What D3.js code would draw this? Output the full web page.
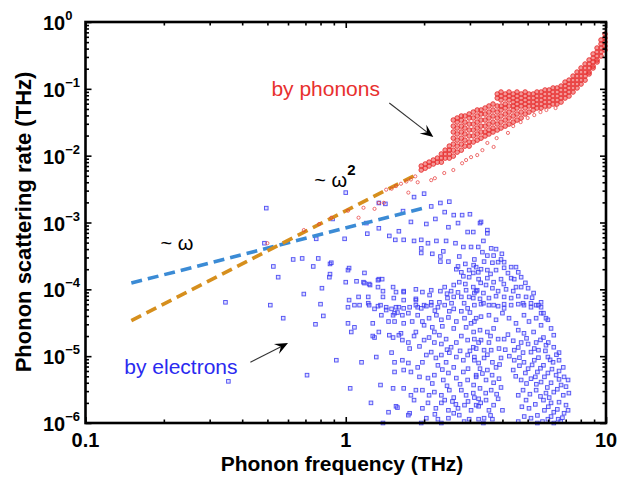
<!DOCTYPE html>
<html>
<head>
<meta charset="utf-8">
<script src="https://cdn.jsdelivr.net/npm/d3@7"></script>
<style>
body { margin: 0; background: #fff; }
svg { font-family: "Liberation Sans", Arial, Helvetica, sans-serif; }
</style>
</head>
<body>
<svg id="chart" width="619" height="479"></svg>
<script>
// values (frequency in THz, rate in THz)
const xMajor = [0.1, 1, 10];
const xLabels = ["0.1", "1", "10"];
const yExponents = [0, -1, -2, -3, -4, -5, -6];

// dashed guide lines ~w and ~w^2
const omegaFit = [[0.15, 1.24e-4], [1.97, 1.63e-3]];
const omega2Fit = [[0.15, 3.4e-5], [1.9, 5.4e-3]];

// phonon-phonon scattering: frequency -> rates in the dense band
const phononBand = [
  [1.95, [7.0e-3, 6.1e-3]], [2.02, [7.5e-3, 6.5e-3]], [2.09, [8.0e-3, 7.0e-3]],
  [2.17, [8.6e-3, 7.5e-3]], [2.25, [9.2e-3, 8.0e-3]], [2.33, [0.0106, 9.2e-3, 8.0e-3]],
  [2.41, [0.0121, 0.0106, 9.2e-3]], [2.50, [0.0139, 0.0121, 0.0106, 9.2e-3]],
  [2.59, [0.0341, 0.0277, 0.0226, 0.0183, 0.0149, 0.0121, 9.86e-3]],
  [2.68, [0.0366, 0.0318, 0.0259, 0.0211, 0.0171, 0.0139, 0.0113]],
  [2.78, [0.0392, 0.0341, 0.0277, 0.0226, 0.0183, 0.0149, 0.0121]],
  [2.87, [0.0392, 0.0318, 0.0259, 0.0211, 0.0171, 0.0139]],
  [2.98, [0.0420, 0.0366, 0.0297, 0.0242, 0.0197, 0.0160, 0.0139]],
  [3.09, [0.0449, 0.0366, 0.0297, 0.0242, 0.0197, 0.0160]],
  [3.20, [0.0482, 0.0392, 0.0318, 0.0259, 0.0211, 0.0171]],
  [3.31, [0.0482, 0.0420, 0.0341, 0.0277, 0.0226, 0.0183]],
  [3.43, [0.0516, 0.0420, 0.0341, 0.0277, 0.0226, 0.0197]],
  [3.55, [0.0553, 0.0449, 0.0366, 0.0297, 0.0242, 0.0211]],
  [3.68, [0.0592, 0.0482, 0.0392, 0.0318, 0.0259, 0.0226]],
  [3.82, [0.0836, 0.0728, 0.0553, 0.0449, 0.0366, 0.0297, 0.0242]],
  [3.95, [0.0896, 0.0780, 0.0680, 0.0553, 0.0482, 0.0392, 0.0318, 0.0259]],
  [4.10, [0.0836, 0.0728, 0.0592, 0.0516, 0.0420, 0.0341, 0.0277]],
  [4.24, [0.0896, 0.0780, 0.0680, 0.0553, 0.0449, 0.0366, 0.0297]],
  [4.40, [0.0836, 0.0728, 0.0634, 0.0553, 0.0482, 0.0392, 0.0318]],
  [4.55, [0.0896, 0.0780, 0.0680, 0.0592, 0.0516, 0.0420, 0.0341]],
  [4.72, [0.0836, 0.0728, 0.0634, 0.0553, 0.0449, 0.0366]],
  [4.89, [0.0896, 0.0780, 0.0680, 0.0592, 0.0516, 0.0420]],
  [5.06, [0.0836, 0.0728, 0.0634, 0.0553, 0.0449]],
  [5.25, [0.0836, 0.0728, 0.0634, 0.0553, 0.0482]],
  [5.43, [0.0896, 0.0780, 0.0680, 0.0592, 0.0516]],
  [5.63, [0.0896, 0.0780, 0.0680, 0.0592, 0.0516]],
  [5.83, [0.0960, 0.0836, 0.0728, 0.0634, 0.0553]],
  [6.04, [0.0960, 0.0836, 0.0728, 0.0634, 0.0553]],
  [6.26, [0.103, 0.0896, 0.0780, 0.0680, 0.0592]],
  [6.48, [0.103, 0.0896, 0.0780, 0.0680, 0.0592]],
  [6.72, [0.110, 0.0960, 0.0836, 0.0728, 0.0634]],
  [6.96, [0.126, 0.110, 0.0960, 0.0836, 0.0728]],
  [7.21, [0.135, 0.118, 0.103, 0.0896, 0.0780]],
  [7.47, [0.155, 0.135, 0.118, 0.103, 0.0896]],
  [7.74, [0.178, 0.155, 0.135, 0.118, 0.103]],
  [8.02, [0.205, 0.178, 0.155, 0.135, 0.118]],
  [8.31, [0.235, 0.205, 0.178, 0.155, 0.135]],
  [8.61, [0.270, 0.235, 0.205, 0.178, 0.167]],
  [8.92, [0.332, 0.289, 0.252, 0.219, 0.205]],
  [9.24, [0.408, 0.356, 0.310, 0.270, 0.252]],
  [9.57, [0.538, 0.469, 0.408, 0.356, 0.310]],
  [9.91, [0.661, 0.576, 0.502, 0.437, 0.381]]
];

// sparse phonon points along the w^2 line and the lower branch
const phononSparse = [
  [0.5, 4.9e-4], [0.69, 7.7e-4], [0.79, 9.5e-4], [0.88, 1.18e-3], [1.02, 1.5e-3],
  [1.12, 1.18e-3], [1.17, 1.66e-3], [1.29, 1.6e-3], [1.34, 1.97e-3], [1.40, 1.97e-3],
  [1.43, 3.1e-3], [1.50, 3.2e-3], [1.56, 3.5e-3], [1.63, 3.8e-3], [1.71, 4.1e-3],
  [1.74, 2.8e-3], [1.78, 4.4e-3], [1.85, 4.9e-3], [1.89, 4.0e-3], [2.13, 4.3e-3],
  [2.2, 4.6e-3], [2.39, 5.5e-3], [2.59, 6.1e-3], [2.8, 7.7e-3], [2.9, 8.6e-3],
  [3.03, 9.5e-3], [3.2, 0.0102], [3.35, 0.0121], [3.5, 0.0155], [3.7, 0.0135],
  [3.8, 0.0183], [4.2, 0.0219], [4.4, 0.0277], [4.7, 0.0318], [5.0, 0.0366],
  [5.3, 0.0405], [5.6, 0.0449], [5.9, 0.0482], [6.4, 0.0516]
];

// phonon-electron scattering points
const electronPts = [
  // sparse, low frequency
  [0.495,1.64e-3],[1.0,2.8e-3],[0.487,4.9e-4],[0.527,2.2e-4],[0.55,1.52e-4],[0.628,2.8e-4],
  [0.68,2.9e-4],[0.784,2.9e-4],[0.75,2.2e-4],[0.87,2.4e-4],[0.87,1.69e-4],[0.865,1.52e-4],
  [0.81,1.04e-4],[0.69,8.5e-5],[0.8,6.0e-5],[0.513,5.8e-5],[0.575,3.7e-5],[0.765,3.0e-5],
  [0.345,6.4e-5],[1.02,1.94e-4],[1.03,2.08e-4],[1.0,1.28e-4],[1.1,1.32e-4],[1.18,1.76e-4],
  [1.17,1.28e-4],[1.24,1.16e-4],[1.34,1.42e-4],[1.33,1.08e-4],[1.52,1.08e-4],[1.12,7.7e-5],
  [1.22,7.7e-5],[1.39,7.7e-5],[1.53,7.4e-5],[1.67,9.1e-5],[1.67,6.9e-5],[1.86,6.9e-5],
  [1.02,5.4e-5],[1.08,5.8e-5],[1.22,6.2e-5],[1.33,5.6e-5],[1.43,4.9e-5],[1.52,4.1e-5],
  [1.58,4.5e-5],[1.74,4.4e-5],[1.89,5.4e-5],[2.0,5.8e-5],[1.02,3.1e-5],[1.08,2.7e-5],
  [1.05,2.3e-5],[1.27,3.1e-5],[1.34,2.3e-5],[1.47,2.06e-5],[1.6,2.06e-5],[1.54,3.3e-5],
  [1.67,3.1e-5],[1.8,3.3e-5],[1.86,2.3e-5],[2.0,2.9e-5],[2.19,2.3e-5],[1.29,1.9e-5],
  [1.65,1.74e-5],[0.354,4.2e-6],[0.71,5.2e-6],[0.92,8.7e-6],[0.82,4.0e-5],[1.04,3.3e-6],
  [0.77,5.7e-4],[0.99,5.7e-4],[0.89,1.13e-3],[0.88,2.5e-4],[1.25,2.0e-6],[1.15,8.1e-6],
  [1.46,1.45e-6],[1.58,1.7e-6],[1.76,1.4e-6],
  // upper middle
  [1.34,1.96e-3],[1.42,1.9e-3],[1.83,2.4e-3],[2.0,2.7e-3],[2.13,1.74e-3],[2.31,1.96e-3],
  [2.5,2.05e-3],[1.66,1.48e-3],[1.78,1.02e-3],[2.4,1.43e-3],[2.6,1.29e-3],[2.8,1.29e-3],
  [3.0,1.33e-3],[3.28,9.8e-4],[2.7,9.8e-4],[2.21,1.13e-3],[2.04,9.5e-4],[2.48,8.5e-4],
  [1.2,9.8e-4],[1.21,6.8e-4],[1.34,8.2e-4],[1.47,6.3e-4],[1.6,7.4e-4],[1.55,5.5e-4],
  [1.67,5.5e-4],[1.83,5.3e-4],[1.95,5.5e-4],[2.07,4.9e-4],[2.23,5.3e-4],[2.43,5.3e-4],
  [2.64,4.9e-4],[2.83,4.3e-4],[3.03,4.3e-4],[3.23,4.3e-4],[2.94,7.2e-4],[3.09,7.2e-4],
  [1.95,4.1e-4],[1.95,3.5e-4],[2.15,3.4e-4],[2.37,3.7e-4],[2.31,3.1e-4],[2.31,2.6e-4],
  [2.48,2.6e-4],[2.73,3.1e-4],[2.7,2.2e-4],[2.88,2.4e-4],[2.66,2.0e-4],[2.78,1.8e-4],
  [2.98,1.94e-4],[3.1,2.3e-4],[3.23,1.8e-4],[2.83,1.57e-4],[2.98,1.52e-4],[1.18,1.24e-4],
  [1.23,1.2e-4],[1.33,1.37e-4],[1.38,1.42e-4],[1.39,9.4e-5],[1.56,9.1e-5],[1.67,9.4e-5],
  [1.86,1.0e-4],[1.97,9.1e-5],[2.13,9.7e-5],[2.31,9.4e-5],[2.54,9.4e-5],[2.4,1.08e-4],
  [2.6,1.16e-4],[2.73,1.28e-4],[2.88,1.2e-4],[3.09,1.08e-4],[3.2,9.7e-5],[2.9,9.7e-5],
  [3.12,8.8e-5],[2.98,7.7e-5],[2.78,7.7e-5],[2.6,7.7e-5],[2.46,7.4e-5],[2.29,6.4e-5],
  [2.13,6.4e-5],[1.86,7.2e-5],[1.76,5.4e-5],[1.6,5.4e-5],[1.43,5.4e-5],[1.23,5.8e-5],
  [1.03,6.9e-5],
  // upper right
  [3.31,1.02e-3],[3.5,7.7e-4],[3.5,6.9e-4],[3.38,5.3e-4],[3.62,4.1e-4],[3.78,4.0e-4],
  [3.98,3.4e-4],[3.5,3.2e-4],[3.7,3.2e-4],[4.06,2.55e-4],[3.85,2.55e-4],[3.66,2.5e-4],
  [3.31,2.0e-4],[3.5,1.94e-4],[3.78,1.94e-4],[4.06,2.1e-4],[4.32,2.15e-4],[4.51,2.15e-4],
  [3.12,2.8e-4],[3.17,2.15e-4],[3.09,1.76e-4],[3.24,1.42e-4],[3.5,1.47e-4],[3.46,1.16e-4],
  [3.7,1.28e-4],[3.95,1.42e-4],[4.32,1.47e-4],[4.44,1.42e-4],[4.72,1.52e-4],[4.6,1.8e-4],
  [4.72,1.08e-4],[4.51,1.08e-4],[4.4,9.4e-5],[4.13,1.0e-4],[3.85,9.4e-5],[3.66,1.04e-4],
  [3.38,8.8e-5],[3.17,9.4e-5],[3.09,7.4e-5],[3.28,7.2e-5],[3.55,7.4e-5],[3.78,7.9e-5],
  [4.06,7.7e-5],[4.32,7.4e-5],[4.6,7.9e-5],[4.93,7.7e-5],[5.02,1.04e-4],[5.27,8.8e-5],
  [5.15,6.2e-5],[5.39,5.8e-5],[5.63,6.4e-5],[5.63,5.4e-5],[4.84,5.8e-5],[4.6,6.0e-5],
  [4.32,5.8e-5],[4.06,6.0e-5],[3.85,5.6e-5],[3.55,5.8e-5],[3.31,6.0e-5],[3.12,5.8e-5],
  [3.35,3.6e-4],[3.95,2.8e-4],[4.2,1.75e-4],[3.6,1.7e-4],[4.05,1.2e-4],[3.3,1.25e-4],
  [4.9,1.25e-4],[5.2,7.5e-5],[3.4,2.6e-4],
  // lower middle
  [1.13,5.8e-5],[1.29,5.1e-5],[1.36,5.8e-5],[1.5,5.1e-5],[1.56,5.4e-5],[1.67,5.2e-5],
  [1.86,5.8e-5],[1.95,5.2e-5],[2.04,5.6e-5],[2.13,5.8e-5],[2.26,5.4e-5],[2.4,5.8e-5],
  [2.5,4.7e-5],[2.6,5.1e-5],[2.78,4.7e-5],[2.94,5.2e-5],[1.37,4.1e-5],[1.46,3.3e-5],
  [1.54,4.4e-5],[1.65,4.1e-5],[1.89,4.1e-5],[1.97,3.3e-5],[2.09,3.7e-5],[2.23,4.1e-5],
  [2.33,3.5e-5],[2.48,3.8e-5],[2.66,3.3e-5],[2.86,3.7e-5],[3.03,3.1e-5],[3.17,3.7e-5],
  [1.27,2.0e-5],[1.52,1.9e-5],[1.63,2.2e-5],[1.74,1.6e-5],[1.76,1.3e-5],[1.83,2.0e-5],
  [1.92,1.4e-5],[2.0,1.74e-5],[2.09,1.9e-5],[2.19,1.6e-5],[2.29,2.06e-5],[2.33,1.52e-5],
  [2.43,1.8e-5],[2.54,1.36e-5],[2.66,1.6e-5],[2.78,2.0e-5],[2.94,1.74e-5],[3.09,1.36e-5],
  [3.24,1.6e-5],[1.31,9.7e-6],[1.5,1.13e-5],[1.54,8.1e-6],[1.65,8.7e-6],[1.74,7.9e-6],
  [1.54,5.8e-6],[1.67,6.2e-6],[1.78,5.8e-6],[1.89,6.8e-6],[1.97,8.1e-6],[2.04,1.04e-5],
  [2.13,1.15e-5],[2.22,9.4e-6],[2.33,1.04e-5],[2.26,7.3e-6],[2.43,8.1e-6],[2.5,1.13e-5],
  [2.66,9.7e-6],[2.83,8.7e-6],[2.94,1.04e-5],[3.12,9.7e-6],[3.24,7.9e-6],[1.92,4.9e-6],
  [2.07,4.7e-6],[2.19,5.2e-6],[2.37,4.4e-6],[2.48,5.6e-6],[2.66,4.7e-6],[2.83,5.8e-6],
  [2.94,4.4e-6],[3.17,5.2e-6],[1.36,3.7e-6],[1.52,3.3e-6],[1.67,3.3e-6],[1.78,2.6e-6],
  [1.86,3.1e-6],[1.97,3.1e-6],[2.09,2.6e-6],[2.19,2.9e-6],[2.33,2.6e-6],[2.5,3.1e-6],
  [2.6,2.4e-6],[2.78,3.1e-6],[2.9,2.6e-6],[3.09,2.8e-6],[3.24,2.3e-6],[1.56,1.78e-6],
  [1.83,2.2e-6],[1.97,1.66e-6],[2.07,2.0e-6],[2.22,1.66e-6],[2.33,2.0e-6],[2.48,1.55e-6],
  [2.57,2.1e-6],[2.7,1.66e-6],[2.86,1.85e-6],[3.03,1.55e-6],[3.17,1.85e-6],[1.74,1.31e-6],
  [2.04,1.18e-6],[2.26,1.14e-6],[2.48,1.18e-6],[2.73,1.31e-6],[2.98,1.14e-6],[1.39,1.0e-6],
  [3.24,1.14e-6],[2.33,1.0e-6],[1.95,1.0e-6],
  [2.1,8.2e-5],[2.45,8.6e-5],[2.7,9.0e-5],[2.2,4.8e-5],[2.55,6.2e-5],[2.85,6.2e-5],
  [3.0,4.5e-5],[2.35,2.8e-5],[2.6,2.6e-5],[2.9,2.7e-5],[2.15,2.7e-5],[3.1,2.3e-5],
  [2.45,1.25e-5],[2.75,1.2e-5],[3.0,1.2e-5],[2.35,6.3e-6],[2.6,6.8e-6],[2.95,6.5e-6],
  [3.1,3.7e-6],[2.75,3.8e-6],[2.45,3.6e-6],[2.15,3.9e-6],[2.4,2.2e-6],[2.65,1.9e-6],
  [2.95,2.1e-6],[2.2,1.35e-6],[2.6,1.4e-6],[2.85,1.05e-6],
  // lower right
  [3.38,6.2e-5],[3.7,5.8e-5],[4.06,5.2e-5],[4.8,6.2e-5],[5.15,5.4e-5],[5.5,5.8e-5],
  [5.75,4.4e-5],[5.88,3.7e-5],[3.12,3.3e-5],[3.31,3.9e-5],[3.55,4.1e-5],[3.78,3.5e-5],
  [4.0,4.4e-5],[4.24,3.7e-5],[4.51,3.1e-5],[4.84,4.1e-5],[5.06,3.3e-5],[5.39,3.7e-5],
  [5.63,2.9e-5],[6.15,2.6e-5],[6.3,2.06e-5],[3.28,2.45e-5],[3.5,2.3e-5],[3.7,2.6e-5],
  [4.6,2.45e-5],[4.84,2.2e-5],[5.27,2.3e-5],[5.75,1.9e-5],[3.12,1.8e-5],[3.31,1.74e-5],
  [3.55,1.6e-5],[3.85,1.8e-5],[4.06,1.8e-5],[4.72,1.6e-5],[5.02,1.52e-5],[5.39,1.6e-5],
  [5.88,1.46e-5],[6.3,1.36e-5],[6.6,1.13e-5],[3.17,1.3e-5],[3.4,1.23e-5],[3.62,1.23e-5],
  [3.88,1.3e-5],[4.44,1.23e-5],[4.8,1.13e-5],[5.15,1.15e-5],[5.5,1.23e-5],[5.98,9.7e-6],
  [6.26,8.1e-6],[6.6,8.7e-6],[6.85,6.8e-6],[3.12,8.7e-6],[3.4,9.4e-6],[3.66,8.1e-6],
  [3.95,9.4e-6],[4.44,8.7e-6],[4.84,8.1e-6],[5.3,8.7e-6],[5.75,7.3e-6],[3.28,6.5e-6],
  [3.5,6.2e-6],[3.78,6.8e-6],[4.4,6.2e-6],[5.02,6.5e-6],[5.45,5.8e-6],[5.98,5.6e-6],
  [6.43,5.2e-6],[6.9,4.9e-6],[3.17,4.9e-6],[3.46,4.4e-6],[3.88,4.6e-6],[4.72,4.4e-6],
  [5.15,4.6e-6],[5.63,4.1e-6],[6.15,4.0e-6],[6.72,3.7e-6],[7.02,3.5e-6],[3.28,3.3e-6],
  [3.62,3.1e-6],[3.95,3.4e-6],[4.8,3.1e-6],[5.39,3.1e-6],[5.88,2.8e-6],[6.3,2.9e-6],
  [6.85,2.6e-6],[3.12,2.4e-6],[3.46,2.2e-6],[3.85,2.3e-6],[4.93,2.2e-6],[5.75,2.2e-6],
  [6.15,2.0e-6],[6.6,2.05e-6],[7.02,1.85e-6],[3.24,1.78e-6],[3.55,1.55e-6],[4.0,1.55e-6],
  [5.06,1.66e-6],[5.8,1.55e-6],[6.3,1.45e-6],[6.9,1.4e-6],[3.4,1.18e-6],[3.66,1.14e-6],
  [5.15,1.18e-6],[5.98,1.14e-6],[6.55,1.14e-6],[3.38,1.0e-6],[5.45,1.0e-6],[6.3,1.0e-6],
  [5.63,4.4e-5],[5.98,3.5e-5],[7.15,4.4e-6],[7.2,2.8e-6],[7.15,1.55e-6],
  [3.6,2.0e-5],[4.2,2.1e-5],[4.4,1.7e-5],[4.95,1.85e-5],[5.6,1.75e-5],[6.0,1.6e-5],
  [4.1,1.25e-5],[4.6,1.35e-5],[5.3,1.3e-5],[5.85,1.2e-5],[6.45,1.05e-5],[3.5,1.05e-5],
  [4.25,1.0e-5],[4.65,9.5e-6],[5.5,9.5e-6],[6.1,8.8e-6],[3.9,7.5e-6],[4.65,7.2e-6],
  [5.2,7.4e-6],[5.6,6.6e-6],[6.2,6.4e-6],[6.6,6.0e-6],[3.35,5.5e-6],[3.65,5.2e-6],
  [4.5,5.0e-6],[4.9,5.6e-6],[5.35,4.9e-6],[5.8,4.9e-6],[6.6,4.5e-6],[3.7,4.0e-6],
  [4.95,3.9e-6],[5.4,3.8e-6],[5.95,3.4e-6],[6.5,3.2e-6],[3.45,2.8e-6],[3.8,2.7e-6],
  [4.6,2.6e-6],[5.1,2.7e-6],[5.6,2.5e-6],[6.05,2.4e-6],[3.3,2.0e-6],[3.7,1.85e-6],
  [4.75,1.75e-6],[5.35,1.9e-6],[6.0,1.75e-6],[6.5,1.6e-6],[3.6,1.3e-6],[4.85,1.25e-6],
  [5.45,1.3e-6],[6.15,1.25e-6],[6.8,1.2e-6],[4.6,1.05e-6],[5.7,1.05e-6],[6.7,1.05e-6]
];

const svg = d3.select("#chart");
const plotLeft = 85.5, plotRight = 606, plotTop = 22, plotBottom = 423;

const x = d3.scaleLog().domain([0.1, 10]).range([plotLeft, plotRight]);
const y = d3.scaleLog().domain([1e-6, 1]).range([plotBottom, plotTop]);

const xMinor = [];
[0.1, 1].forEach(d => { for (let k = 2; k <= 9; k++) xMinor.push(d * k); });
const yMajor = yExponents.map(e => Math.pow(10, e));
const yMinor = [];
yExponents.slice(0, -1).forEach(e => {
  for (let k = 2; k <= 9; k++) yMinor.push(k * Math.pow(10, e - 1));
});

// electrons
svg.append("g")
  .selectAll("rect")
  .data(electronPts)
  .enter()
  .append("rect")
  .attr("x", d => x(d[0]) - 1.8)
  .attr("y", d => y(d[1]) - 1.8)
  .attr("width", 3.6)
  .attr("height", 3.6)
  .attr("fill", "rgba(90,90,255,0.2)")
  .attr("stroke", "#3a3af2")
  .attr("stroke-opacity", 0.85)
  .attr("stroke-width", 0.95);

// phonon guide lines
const line = d3.line().x(d => x(d[0])).y(d => y(d[1]));

svg.append("path")
  .attr("d", line(omegaFit))
  .attr("fill", "none")
  .attr("stroke", "#3b8bd5")
  .attr("stroke-width", 3.6)
  .attr("stroke-dasharray", "11,6");

svg.append("path")
  .attr("d", line(omega2Fit))
  .attr("fill", "none")
  .attr("stroke", "#d68f1d")
  .attr("stroke-width", 3.6)
  .attr("stroke-dasharray", "11,6");

// phonons
const bandPts = [];
phononBand.forEach(([f, rates]) => rates.forEach(r => bandPts.push([f, r])));

svg.append("g")
  .selectAll("circle")
  .data(phononSparse)
  .enter()
  .append("circle")
  .attr("cx", d => x(d[0]))
  .attr("cy", d => y(d[1]))
  .attr("r", 1.6)
  .attr("fill", "none")
  .attr("stroke", "#e83a3a")
  .attr("stroke-opacity", 0.8)
  .attr("stroke-width", 0.9);

svg.append("g")
  .selectAll("circle")
  .data(bandPts)
  .enter()
  .append("circle")
  .attr("cx", d => x(d[0]))
  .attr("cy", d => y(d[1]))
  .attr("r", 2.3)
  .attr("fill", "#e83030")
  .attr("fill-opacity", 0.5)
  .attr("stroke", "#e83030")
  .attr("stroke-opacity", 0.9)
  .attr("stroke-width", 1);

// frame and ticks
function ticks(axis, values, size) {
  return axis.tickValues(values).tickSize(-size).tickFormat("");
}
[[d3.axisBottom, x, `translate(0,${plotBottom})`],
 [d3.axisTop, x, `translate(0,${plotTop})`],
 [d3.axisLeft, y, `translate(${plotLeft},0)`],
 [d3.axisRight, y, `translate(${plotRight},0)`]].forEach(([mk, sc, tr]) => {
  const major = sc === x ? xMajor : yMajor;
  const minor = sc === x ? xMinor : yMinor;
  svg.append("g").attr("transform", tr).call(ticks(mk(sc), major, 6));
  svg.append("g").attr("transform", tr).call(ticks(mk(sc), minor, 3.5));
});
svg.selectAll(".domain").remove();
svg.selectAll(".tick line").attr("stroke", "#000").attr("stroke-width", 1.6);

svg.append("rect")
  .attr("x", plotLeft).attr("y", plotTop)
  .attr("width", plotRight - plotLeft).attr("height", plotBottom - plotTop)
  .attr("fill", "none").attr("stroke", "#000").attr("stroke-width", 2.6);

// tick labels
svg.append("g")
  .selectAll("text")
  .data(xMajor)
  .enter()
  .append("text")
  .attr("x", d => x(d))
  .attr("y", 447)
  .attr("text-anchor", "middle")
  .attr("font-size", 20)
  .attr("font-weight", "bold")
  .text((d, i) => xLabels[i]);

const yl = svg.append("g")
  .selectAll("text")
  .data(yExponents)
  .enter()
  .append("text")
  .attr("x", 43)
  .attr("y", d => y(Math.pow(10, d)) + 8)
  .attr("font-size", 20)
  .attr("font-weight", "bold");
yl.append("tspan").text("10");
yl.append("tspan")
  .attr("font-size", 13)
  .attr("dy", -10)
  .text(d => (d < 0 ? "\u2212" + (-d) : "0"));

// axis titles
svg.append("text")
  .attr("x", 342)
  .attr("y", 471)
  .attr("text-anchor", "middle")
  .attr("font-size", 21)
  .attr("font-weight", "bold")
  .text("Phonon frequency (THz)");

svg.append("text")
  .attr("transform", "translate(31,222) rotate(-90)")
  .attr("text-anchor", "middle")
  .attr("font-size", 22)
  .attr("font-weight", "bold")
  .text("Phonon scattering rate (THz)");

// annotations
svg.append("text")
  .attr("x", x(0.518)).attr("y", y(0.078))
  .attr("font-size", 21).attr("fill", "#e8302e")
  .text("by phonons");

svg.append("text")
  .attr("x", x(0.141)).attr("y", y(5.4e-6))
  .attr("font-size", 21).attr("fill", "#2a2af0")
  .text("by electrons");

svg.append("text")
  .attr("x", x(0.194)).attr("y", y(3.9e-4))
  .attr("font-size", 20)
  .text("~ \u03c9");

const w2 = svg.append("text")
  .attr("x", x(0.757)).attr("y", y(3.4e-3))
  .attr("font-size", 20);
w2.append("tspan").text("~ \u03c9");
w2.append("tspan").attr("font-size", 15).attr("font-weight", "bold").attr("dy", -12).text("2");

function arrow(from, to) {
  const x0 = x(from[0]), y0 = y(from[1]), x1 = x(to[0]), y1 = y(to[1]);
  const a = Math.atan2(y1 - y0, x1 - x0);
  const len = 13, half = 5.5, notch = 8;
  const bx = x1 - len * Math.cos(a), by = y1 - len * Math.sin(a);
  const nx = x1 - notch * Math.cos(a), ny = y1 - notch * Math.sin(a);
  svg.append("line")
    .attr("x1", x0).attr("y1", y0).attr("x2", nx).attr("y2", ny)
    .attr("stroke", "#333").attr("stroke-width", 1.1);
  const pts = [
    [x1, y1],
    [bx - half * Math.sin(a), by + half * Math.cos(a)],
    [nx, ny],
    [bx + half * Math.sin(a), by - half * Math.cos(a)]
  ];
  svg.append("path")
    .attr("d", "M" + pts.map(p => p.join(",")).join("L") + "Z")
    .attr("fill", "#000");
}
arrow([1.47, 0.0613], [2.17, 0.019]);
arrow([0.43, 8.1e-6], [0.60, 1.57e-5]);
</script>
</body>
</html>
